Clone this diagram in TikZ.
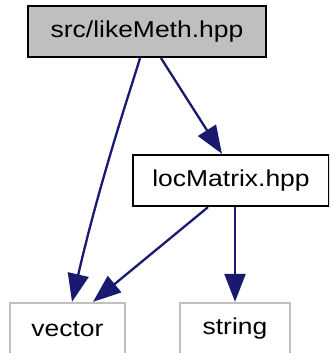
\documentclass[tikz,border=0pt]{standalone}
\usepackage{fontspec}
\setmainfont{Liberation Sans}[FakeStretch=1.15]
\usetikzlibrary{arrows.meta}
\definecolor{edgeblue}{HTML}{191970}
\definecolor{boxgray}{HTML}{BFBFBF}
\definecolor{extgray}{HTML}{C0C0C0}
\tikzset{
  filebox/.style={draw=black, line width=2.3pt, rectangle, inner sep=0pt,
    font=\fontsize{23}{27}\selectfont, text=black},
  extbox/.style={draw=extgray, line width=2.3pt, rectangle, inner sep=0pt,
    font=\fontsize{23}{27}\selectfont, text=black},
  dep/.style={draw=edgeblue, line width=2.3pt,
    -{Triangle[length=28pt,width=21pt,fill=edgeblue]}},
}
\begin{document}
\begin{tikzpicture}[x=1pt, y=-1pt]
  \useasboundingbox (0,0) rectangle (329,353);
  \clip (0,0) rectangle (329,353);
  % header and its includes
  \node[filebox, fill=boxgray, minimum width=238pt, minimum height=51pt] (like) at (147,31.5) {src/likeMeth.hpp};
  \node[filebox, fill=white, minimum width=196pt, minimum height=51pt] (loc) at (231,180.5) {locMatrix.hpp};
  \node[extbox, fill=white, minimum width=115pt, minimum height=52pt] (vec) at (67.5,329) {vector};
  \node[extbox, fill=white, minimum width=110pt, minimum height=52pt] (str) at (235,329) {string};
  % include edges
  \draw[dep] ([xshift=-7pt]like.south) .. controls (132,85) and (100,180) .. ([xshift=4.5pt]vec.north);
  \draw[dep] ([xshift=14pt]like.south) -- ([xshift=-9pt]loc.north);
  \draw[dep] ([xshift=-23pt]loc.south) -- ([xshift=25.5pt]vec.north);
  \draw[dep] ([xshift=4pt]loc.south) -- (str.north);
\end{tikzpicture}
\end{document}
